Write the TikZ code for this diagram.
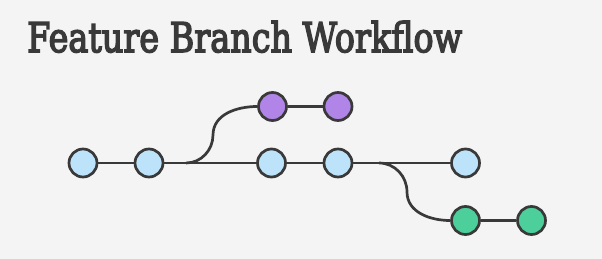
\documentclass[tikz,border=0pt]{standalone}
\usepackage{fontspec}
\setmainfont{DejaVu Serif}
% heavier title: fill and stroke the glyph outlines
\newcommand{\strokedtext}[1]{\special{pdf:code q 2 Tr 0.4 w}#1\special{pdf:code 0 Tr Q}}
\definecolor{bg}{HTML}{F4F4F4}
\definecolor{ink}{HTML}{393939}
\definecolor{mainc}{HTML}{BDE3FA}
\definecolor{featc}{HTML}{B184E8}
\definecolor{fixc}{HTML}{4CCF9B}
\begin{document}
\begin{tikzpicture}[x=1pt,y=-1pt,
  commit/.style={circle,draw=ink,line width=2.7pt,minimum size=28pt,inner sep=0pt},
  link/.style={draw=ink,line width=2.7pt}]
  % canvas
  \fill[bg] (0,0) rectangle (602,259);
  \useasboundingbox (0,0) rectangle (602,259);

  % title
  \node[anchor=base west,inner sep=0pt,text=ink] (title) at (27,52)
    {\resizebox{435pt}{31pt}{\strokedtext{Feature Branch Workflow}}};

  % main line commits
  \node[commit,fill=mainc] (m1) at (83,163) {};
  \node[commit,fill=mainc] (m2) at (149,163) {};
  \node[commit,fill=mainc] (m3) at (271.5,163) {};
  \node[commit,fill=mainc] (m4) at (338,163) {};
  \node[commit,fill=mainc] (m5) at (465.5,163) {};

  % first feature branch
  \node[commit,fill=featc] (f1) at (272.5,106.5) {};
  \node[commit,fill=featc] (f2) at (338,106.5) {};

  % second feature branch
  \node[commit,fill=fixc] (g1) at (465.5,220.5) {};
  \node[commit,fill=fixc] (g2) at (531.5,220.5) {};

  % branch points
  \coordinate (fork1) at (186,163);
  \coordinate (mid1) at (213,135);
  \coordinate (fork2) at (379,163);
  \coordinate (mid2) at (407,192);

  % connectors
  \draw[link] (m1) -- (m2);
  \draw[link] (m2) -- (m3);
  \draw[link] (m3) -- (m4);
  \draw[link] (m4) -- (m5);
  \draw[link] (fork1) to[out=0,in=-90] (mid1) to[out=90,in=180] (f1);
  \draw[link] (f1) -- (f2);
  \draw[link] (fork2) to[out=0,in=90] (mid2) to[out=-90,in=180] (g1);
  \draw[link] (g1) -- (g2);
\end{tikzpicture}
\end{document}
